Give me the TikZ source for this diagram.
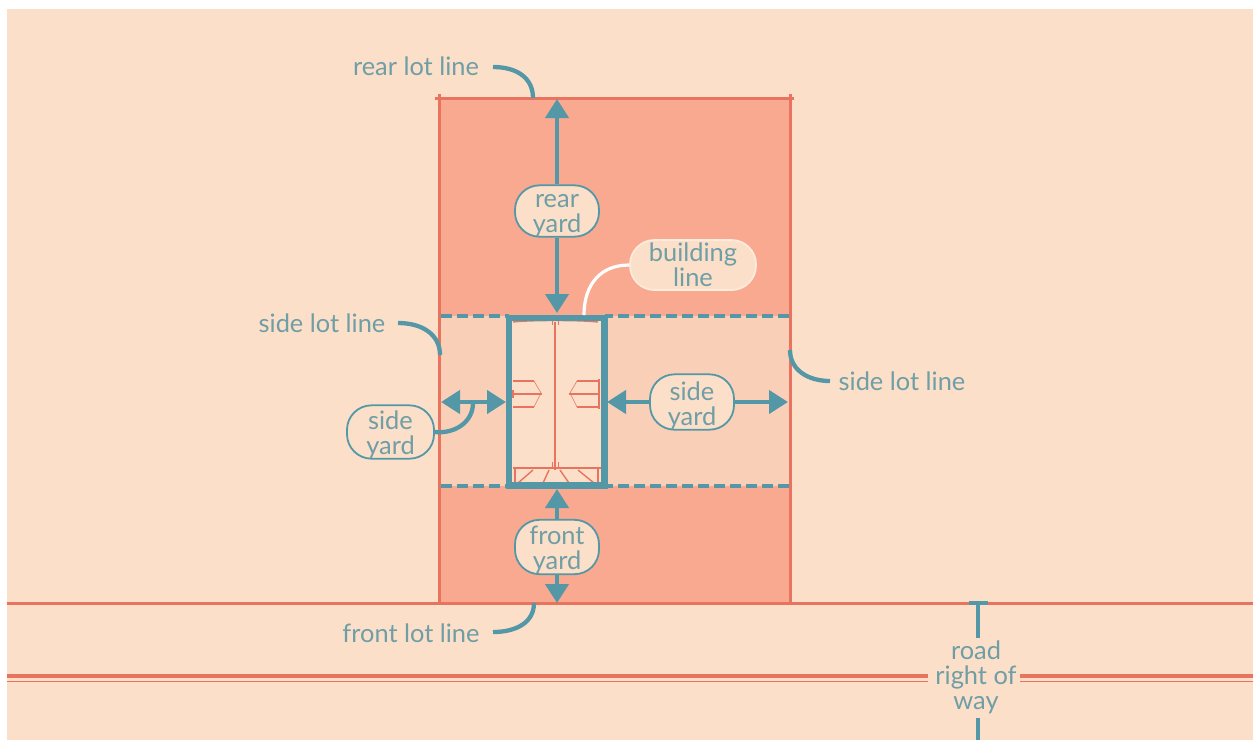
\documentclass[tikz,border=0pt]{standalone}
\usepackage{fontspec}
\setmainfont{Lato}
\usetikzlibrary{arrows.meta}
\definecolor{bgc}{HTML}{FBDFC9}
\definecolor{lotc}{HTML}{F8A990}
\definecolor{bandc}{HTML}{F9CFB8}
\definecolor{redc}{HTML}{E8745F}
\definecolor{tealc}{HTML}{5498A8}
\definecolor{textc}{HTML}{6F9EA6}
\definecolor{edgec}{HTML}{FDEBDB}
\tikzset{
  x=1pt,y=-1pt,
  lbl/.style={text=textc,font=\fontsize{25.4}{25}\selectfont,align=center,inner sep=0pt},
  pill/.style={lbl,rectangle,rounded corners=24.5pt,draw=tealc,line width=1.8pt,fill=bgc,minimum height=50pt,minimum width=84pt},
  lotline/.style={draw=redc,line width=3pt},
  bandline/.style={draw=tealc,line width=3.4pt,dash pattern=on 11pt off 5pt},
  tealarrow/.style={draw=tealc,line width=4.3pt,{Triangle[width=23pt,length=19pt,fill=tealc]}-{Triangle[width=23pt,length=19pt,fill=tealc]}},
  onearrow/.style={draw=tealc,line width=4.3pt,-{Triangle[width=23pt,length=19pt,fill=tealc]}},
  leader/.style={draw=tealc,line width=4.3pt},
  plan/.style={draw=redc,line width=1.4pt},
  planthin/.style={draw=redc,line width=.6pt},
  planthick/.style={draw=redc,line width=2.6pt},
}
\begin{document}
\begin{tikzpicture}
\useasboundingbox (0,0) rectangle (1253,740);
\fill[white] (0,0) rectangle (1253,740);
\fill[bgc] (7,9) rectangle (1253,740);
% lot
\fill[lotc] (439,98) rectangle (790,603);
\fill[bandc] (439,316) rectangle (790,486);
\coordinate (rearL) at (435,98); \coordinate (rearR) at (794,98);
\coordinate (sideLt) at (439,94); \coordinate (sideLb) at (439,603);
\coordinate (sideRt) at (790,94); \coordinate (sideRb) at (790,603);
\draw[lotline] (rearL) -- (rearR);
\draw[lotline] (sideLt) -- (sideLb);
\draw[lotline] (sideRt) -- (sideRb);
% road
\coordinate (frontA) at (7,603); \coordinate (frontB) at (1253,603);
\draw[lotline] (frontA) -- (frontB);
\coordinate (roadA) at (7,676); \coordinate (roadB) at (928,676);
\coordinate (roadC) at (1020,676); \coordinate (roadD) at (1253,676);
\coordinate (roadE) at (7,681.5); \coordinate (roadF) at (928,681.5);
\coordinate (roadG) at (1020,681.5); \coordinate (roadH) at (1253,681.5);
\draw[draw=redc,line width=4.4pt] (roadA) -- (roadB);
\draw[draw=redc,line width=4.4pt] (roadC) -- (roadD);
\draw[draw=redc,line width=1.5pt] (roadE) -- (roadF);
\draw[draw=redc,line width=1.5pt] (roadG) -- (roadH);
% band dashes
\coordinate (b1) at (441,316); \coordinate (b2) at (509,316);
\coordinate (b3) at (605,316); \coordinate (b4) at (789,316);
\coordinate (b5) at (441,486); \coordinate (b6) at (509,486);
\coordinate (b7) at (605,486); \coordinate (b8) at (789,486);
\draw[bandline] (b1) -- (b2);
\draw[bandline] (b4) -- (b3);
\draw[bandline] (b5) -- (b6);
\draw[bandline] (b8) -- (b7);
% building interior
\fill[bgc] (509,318) rectangle (604.5,485.5);
\draw[plan] (555,322) -- (555,470);
\draw[plan] (513,322) .. controls (530,320) and (580,320) .. (598,322);
\draw[planthin] (552,321) -- (552,325) (558,321) -- (558,325);
\draw[planthin] (552,462) -- (552,467) (558,462) -- (558,467);
\draw[plan] (513,381) -- (534,381);
\draw[plan] (513,394) -- (542,394);
\draw[plan] (513,407) -- (534,407);
\draw[planthin] (534,381) -- (541,393) -- (534,407);
\draw[plan] (513,390) -- (513,398);
\draw[plan] (598,381) -- (577,381);
\draw[plan] (598,394) -- (569,394);
\draw[plan] (598,407) -- (577,407);
\draw[planthin] (577,381) -- (570,393) -- (577,407);
\draw[planthick] (599,379) -- (599,409);
\draw[planthick] (513,468) -- (601,468);
\draw[plan] (515,468) -- (515,483);
\draw[plan] (598,468) -- (598,483);
\draw[plan] (533,470) -- (518,483);
\draw[plan] (549,470) -- (543,483);
\draw[plan] (560,470) -- (569,483);
\draw[plan] (578,470) -- (594,483);
% building outline
\node[draw=tealc,line width=6.4pt,minimum width=95.5pt,minimum height=167.5pt,inner sep=0pt] (bldg) at (556.75,401.75) {};
% labels
\node[pill] (rearyard) at (557,211) {\rule{0pt}{22pt}rear\\yard};
\node[pill] (frontyard) at (557,547) {\rule{0pt}{25pt}front\\yard};
\node[pill] (rightyard) at (692,402) {\rule{0pt}{26pt}side\\yard};
\node[pill,minimum width=87pt] (leftyard) at (390.5,432) {\rule{0pt}{24pt}side\\yard};
\node[pill,draw=edgec,minimum width=126pt] (bline) at (693,265) {building\\line};
\node[lbl] (rearlot) at (416,66) {rear lot line};
\node[lbl] (frontlot) at (411,633) {front lot line};
\node[lbl] (sidelotL) at (322,323) {side lot line};
\node[lbl] (sidelotR) at (902,381) {side lot line};
\node[lbl] (road) at (976,677) {road\\right of\\way};
% arrows
\coordinate (rearTop) at (557,99);
\coordinate (rearBot) at (557,313);
\coordinate (frontTop) at (557,489);
\coordinate (frontBot) at (557,603);
\coordinate (leftA) at (441,402); \coordinate (leftB) at (506,402);
\coordinate (rightA) at (607,402); \coordinate (rightB) at (788,402);
\draw[onearrow] (rearyard.north) -- (rearTop);
\draw[onearrow] (rearyard.south) -- (rearBot);
\draw[onearrow] (frontyard.north) -- (frontTop);
\draw[onearrow] (frontyard.south) -- (frontBot);
\draw[tealarrow] (leftA) -- (leftB);
\draw[onearrow] (rightyard.west) -- (rightA);
\draw[onearrow] (rightyard.east) -- (rightB);
% leaders
\coordinate (c1) at (493,67); \coordinate (c2) at (533,98);
\draw[leader] (c1) .. controls (517,67) and (533,78) .. (c2);
\coordinate (c3) at (493,632); \coordinate (c4) at (534,603);
\draw[leader] (c3) .. controls (517,632) and (534,622) .. (c4);
\coordinate (c5) at (398,323); \coordinate (c6) at (440,355);
\draw[leader] (c5) .. controls (423,323) and (440,335) .. (c6);
\coordinate (c7) at (790,350); \coordinate (c8) at (830,381);
\draw[leader] (c7) .. controls (790,370) and (808,381) .. (c8);
\coordinate (c9) at (473,403);
\draw[leader] (leftyard.east) .. controls (455,434) and (473,422) .. (c9);
\coordinate (c10) at (584,315);
\draw[draw=white,line width=3.2pt] (bline.west) .. controls (600,265) and (584,285) .. (c10);
% road ticks
\coordinate (t1) at (969,603); \coordinate (t2) at (988,603);
\coordinate (t3) at (978,603); \coordinate (t4) at (978,638);
\coordinate (t5) at (978,718); \coordinate (t6) at (978,740);
\draw[draw=tealc,line width=4pt] (t1) -- (t2);
\draw[draw=tealc,line width=4.5pt] (t3) -- (t4);
\draw[draw=tealc,line width=4.5pt] (t5) -- (t6);
\end{tikzpicture}
\end{document}
